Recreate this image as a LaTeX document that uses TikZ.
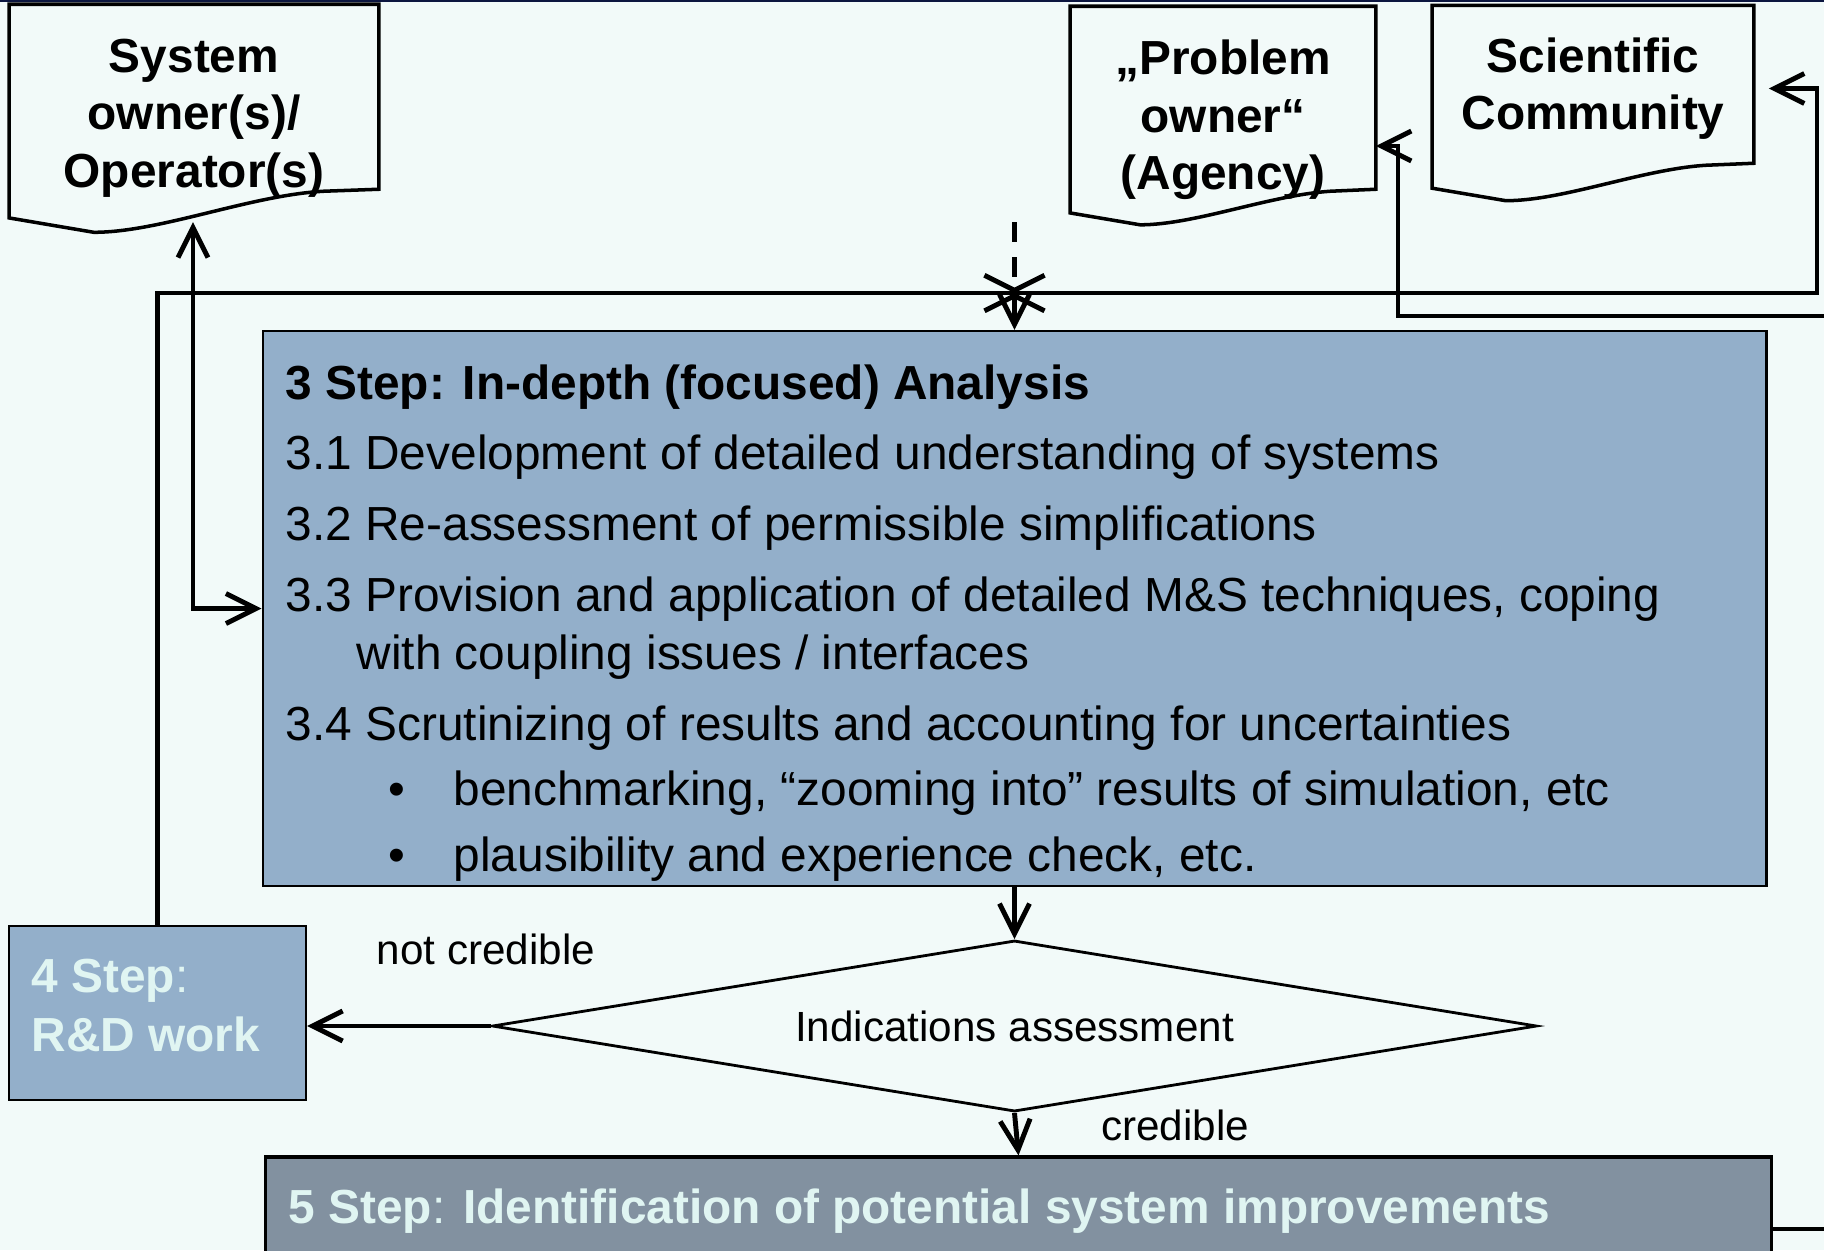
\documentclass[tikz,border=0pt]{standalone}
\usepackage{fontspec}
\setmainfont{Liberation Sans}
\usetikzlibrary{arrows.meta,positioning,shapes.geometric,calc}
\definecolor{bgcol}{RGB}{242,250,249}
\definecolor{stepcol}{RGB}{147,175,202}
\definecolor{improvcol}{RGB}{130,145,160}
\definecolor{steptxt}{RGB}{224,245,242}
\definecolor{framecol}{RGB}{12,22,64}
% wavy "document" outline round a node: node, width, height of right edge
\newcommand{\docline}[3]{%
  \draw[docedge] (#1.north west) -- (#1.north east) -- ($(#1.north east)+(0,#3)$)
    -- ($(#1.north east)+({-0.15*#2},#3+2)$)
    .. controls ($(#1.north east)+({-0.35*#2},#3+6)$) and ($(#1.north west)+({0.41*#2},{#3+0.117*#2})$)
    .. ($(#1.north west)+({0.23*#2},{#3+0.117*#2})$)
    -- ($(#1.north west)+(0,{#3+0.078*#2})$) -- cycle;}

\begin{document}
\begin{tikzpicture}[x=0.01cm,y=-0.01cm,
  font=\fontsize{13.6}{16.5}\selectfont,
  docbox/.style={rectangle,align=center,inner sep=0pt,font=\bfseries\fontsize{13.6}{16.4}\selectfont},
  docedge/.style={draw=black,line width=1pt},
  stepbox/.style={rectangle,draw=black,line width=0.6pt,fill=stepcol},
  itemline/.style={anchor=base west,inner sep=0pt},
  steplabel/.style={anchor=base west,inner sep=0pt,text=steptxt},
  lbl/.style={font=\fontsize{12}{14}\selectfont,inner sep=0pt},
  conn/.style={line width=1.4pt},
  >={Straight Barb[length=3mm,width=3mm]}]

\fill[bgcol] (0,0) rectangle (1824,1250);
\useasboundingbox (0,0) rectangle (1824,1250);
\clip (0,0) rectangle (1824,1250);
\fill[framecol] (0,0) rectangle (1824,2);

% stakeholders
\node[docbox,minimum width=3.68cm,minimum height=2.26cm] (owner) at (194,118) {System\\owner(s)/\\Operator(s)};
\node[docbox,minimum width=3.04cm,minimum height=2.26cm] (agency) at (1223,120) {„Problem\\owner“\\(Agency)};
\node[docbox,minimum width=3.20cm,minimum height=1.65cm] (science) at (1593,88.5) {Scientific\\Community};
\docline{owner}{368}{185}
\docline{agency}{304}{183}
\docline{science}{320}{158}

% step 3
\node[stepbox,minimum width=15.03cm,minimum height=5.55cm] (analysis) at (1014.5,608.5) {};
\node[itemline,font=\bfseries\fontsize{13.6}{16.5}\selectfont] (t0) at (285,399) {3 Step: In-depth (focused) Analysis};
\node[itemline] (t1) at (285,469) {3.1 Development of detailed understanding of systems};
\node[itemline] (t2) at (285,540) {3.2 Re-assessment of permissible simplifications};
\node[itemline] (t3) at (285,611) {3.3 Provision and application of detailed M\&S techniques, coping};
\node[itemline] (t3b) at (356,669) {with coupling issues / interfaces};
\node[itemline] (t4) at (285,740) {3.4 Scrutinizing of results and accounting for uncertainties};
\node[itemline] (b1) at (388,805) {\textbullet};
\node[itemline] (b1t) at (453,805) {benchmarking, “zooming into” results of simulation, etc};
\node[itemline] (b2) at (388,871) {\textbullet};
\node[itemline] (b2t) at (453,871) {plausibility and experience check, etc.};

% decision, step 4, step 5
\node[diamond,draw,line width=0.8pt,fill=bgcol,minimum width=10.44cm,minimum height=1.71cm,
  inner sep=0pt,aspect=6.1,font=\fontsize{12}{14}\selectfont] (assess) at (1014.5,1026) {Indications assessment};
\node[stepbox,minimum width=2.97cm,minimum height=1.74cm] (rnd) at (157.5,1013) {};
\node[steplabel] (rndtop) at (31,992) {\textbf{4 Step}:};
\node[steplabel] (rndbot) at (31,1051) {\textbf{R\&D work}};
\node[stepbox,fill=improvcol,line width=0.9pt,minimum width=15.05cm,minimum height=1.02cm] (improve) at (1018.5,1208) {};
\node[steplabel] (improvetxt) at (288,1223) {\textbf{5 Step}: \textbf{Identification of potential system improvements}};

\node[lbl] (nocred) at (486,949) {not credible};
\node[lbl] (cred) at (1175,1125) {credible};

% connectors
\coordinate (ownerfoot) at (193,222);
\coordinate (loopturn) at (1817,293);
\coordinate (dashtop) at (1014.5,222);
\coordinate (loopx) at (1014.5,293);
\coordinate (agencyin) at (1824,316);
\coordinate (agencybend) at (1398,146);
\coordinate (improveout) at (1824,1229);

\draw[conn,<->] (ownerfoot) |- (analysis.west);
\draw[conn,->,shorten >=1.5mm] (rnd.north) |- (loopturn) |- (science.east);
\draw[conn,dashed,dash pattern=on 2mm off 1.5mm,-{Straight Barb[length=1.5mm,width=6mm]}] (dashtop) -- (loopx);
\draw[conn,{Straight Barb[length=1.5mm,width=6mm]}->] (loopx) -- (analysis.north);
\draw[conn,->] (agencyin) -| (agencybend) -- (agencybend -| agency.east);
\draw[conn,->] (analysis.south) -- (assess.north);
\draw[conn,->] (assess.south) -- (improve.north);
\draw[conn,->] (assess.west) -- (assess.west -| rnd.east);
\draw[conn] (improve.east |- improveout) -- (improveout);
\end{tikzpicture}
\end{document}
